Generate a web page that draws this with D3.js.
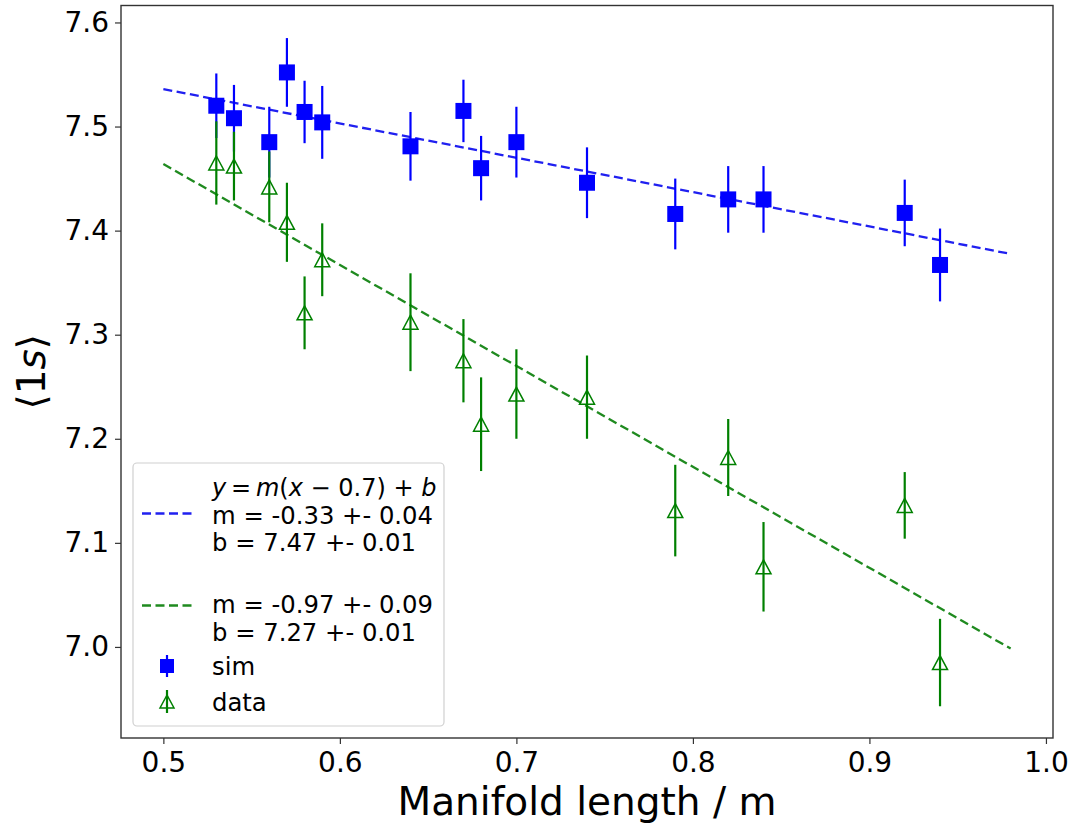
<!DOCTYPE html>
<html>
<head>
<meta charset="utf-8">
<script src="https://cdn.jsdelivr.net/npm/d3@7/dist/d3.min.js"></script>
<style>
  body { margin: 0; background: #fff; }
  text { font-family: "DejaVu Sans", sans-serif; fill: #000; }
</style>
</head>
<body>
<div id="chart"></div>
<script>
// manifold lengths (m)
var lengths = [0.53, 0.54, 0.56, 0.57, 0.58, 0.59, 0.64, 0.67, 0.68, 0.70, 0.74, 0.79, 0.82, 0.84, 0.92, 0.94];

// simulation <1s>
var simVals = [7.520, 7.508, 7.485, 7.552, 7.514, 7.504, 7.481, 7.515, 7.460, 7.485, 7.446, 7.416, 7.430, 7.430, 7.417, 7.367];
var simErrs = [0.031, 0.032, 0.034, 0.033, 0.030, 0.035, 0.033, 0.030, 0.031, 0.034, 0.034, 0.034, 0.032, 0.032, 0.032, 0.035];

// measured <1s>
var dataVals = [7.465, 7.462, 7.442, 7.408, 7.321, 7.372, 7.312, 7.275, 7.214, 7.243, 7.240, 7.131, 7.182, 7.077, 7.136, 6.985];
var dataErrs = [0.040, 0.033, 0.034, 0.038, 0.035, 0.035, 0.047, 0.040, 0.045, 0.043, 0.040, 0.044, 0.037, 0.043, 0.032, 0.042];

// fit y = m(x - 0.7) + b, drawn from x0 to x1
var fitRange = [0.5, 0.98];
var fitSlopes = [-0.33, -0.97];
var fitOffsets = [7.47, 7.27];

var xTicks = [0.5, 0.6, 0.7, 0.8, 0.9, 1.0];
var yTicks = [7.0, 7.1, 7.2, 7.3, 7.4, 7.5, 7.6];

var W = 1071, H = 825;
var margin = { left: 121, right: 18, top: 5.5, bottom: 87 };
var blue = "#0000ff", green = "#008000";

var svg = d3.select("#chart").append("svg")
    .attr("width", W)
    .attr("height", H);

var x = d3.scaleLinear().domain([0.476, 1.004]).range([margin.left, W - margin.right]);
var y = d3.scaleLinear().domain([6.9125, 7.6163]).range([H - margin.bottom, margin.top]);

// axes
var xAxis = svg.append("g")
    .attr("transform", "translate(0," + (H - margin.bottom) + ")")
    .call(d3.axisBottom(x).tickValues(xTicks).tickSize(6).tickPadding(8).tickFormat(d3.format(".1f")));
var yAxis = svg.append("g")
    .attr("transform", "translate(" + margin.left + ",0)")
    .call(d3.axisLeft(y).tickValues(yTicks).tickSize(6).tickPadding(6).tickFormat(d3.format(".1f")));
[xAxis, yAxis].forEach(function(a) {
    a.select(".domain").remove();
    a.selectAll(".tick line").attr("stroke", "#333").attr("stroke-width", 1.2);
    a.selectAll(".tick text").style("font-family", "DejaVu Sans").style("font-size", "28px").attr("fill", "#111");
});

// frame
svg.append("rect")
    .attr("x", margin.left).attr("y", margin.top)
    .attr("width", W - margin.left - margin.right)
    .attr("height", H - margin.top - margin.bottom)
    .attr("fill", "none").attr("stroke", "#333").attr("stroke-width", 1.4);

// fit lines
var fitColors = ["#2020f0", "#1f8a1f"];
fitSlopes.forEach(function(m, i) {
    var b = fitOffsets[i];
    svg.append("line")
        .attr("x1", x(fitRange[0])).attr("y1", y(m * (fitRange[0] - 0.7) + b))
        .attr("x2", x(fitRange[1])).attr("y2", y(m * (fitRange[1] - 0.7) + b))
        .attr("stroke", fitColors[i]).attr("stroke-width", 2.3)
        .attr("stroke-dasharray", "9,4.5");
});

// error bars + markers
function drawSeries(vals, errs, color, shape) {
    var g = svg.append("g");
    g.selectAll("line.err").data(lengths).enter().append("line")
        .attr("x1", function(d) { return x(d); })
        .attr("x2", function(d) { return x(d); })
        .attr("y1", function(d, i) { return y(vals[i] - errs[i]); })
        .attr("y2", function(d, i) { return y(vals[i] + errs[i]); })
        .attr("stroke", color).attr("stroke-width", 2.2);
    if (shape == "square") {
        g.selectAll("rect").data(lengths).enter().append("rect")
            .attr("x", function(d) { return x(d) - 8; })
            .attr("y", function(d, i) { return y(vals[i]) - 8; })
            .attr("width", 16).attr("height", 16)
            .attr("fill", color);
    } else {
        g.selectAll("path").data(lengths).enter().append("path")
            .attr("d", function(d, i) {
                var cx = x(d), cy = y(vals[i]);
                return "M" + cx + "," + (cy - 7) + "L" + (cx - 7.5) + "," + (cy + 7) + "L" + (cx + 7.5) + "," + (cy + 7) + "Z";
            })
            .attr("fill", "none").attr("stroke", color).attr("stroke-width", 1.5);
    }
}
drawSeries(simVals, simErrs, blue, "square");
drawSeries(dataVals, dataErrs, green, "triangle");

// axis labels
svg.append("text")
    .attr("x", (margin.left + W - margin.right) / 2)
    .attr("y", 815)
    .attr("text-anchor", "middle")
    .style("font-size", "39px")
    .text("Manifold length / m");

var yl = svg.append("text")
    .attr("transform", "translate(45," + ((margin.top + H - margin.bottom) / 2) + ") rotate(-90)")
    .attr("text-anchor", "middle")
    .style("font-size", "39px");
yl.append("tspan").text("\u27e81");
yl.append("tspan").style("font-style", "italic").text("s");
yl.append("tspan").text("\u27e9");

// legend
var leg = svg.append("g");
leg.append("rect")
    .attr("x", 133).attr("y", 463).attr("width", 311).attr("height", 263)
    .attr("rx", 4)
    .attr("fill", "#fff").attr("fill-opacity", 0.8)
    .attr("stroke", "#d0d0d0").attr("stroke-width", 1.2);

var tx = 212;
function legText(yy, s) {
    return leg.append("text").attr("x", tx).attr("y", yy).style("font-size", "24.3px").text(s);
}

// formula line (math style)
var f = leg.append("text").attr("x", tx).attr("y", 496).style("font-size", "24px");
[["y", 1], ["\u2009=\u2009", 0], ["m", 1], ["(", 0], ["x", 1], [" \u2212 0.7) + ", 0], ["b", 1]].forEach(function(p) {
    f.append("tspan").style("font-style", p[1] ? "italic" : "normal").text(p[0]);
});
legText(523.5, "m = " + fitSlopes[0].toFixed(2) + " +- 0.04");
legText(551, "b = " + fitOffsets[0].toFixed(2) + " +- 0.01");
legText(613, "m = " + fitSlopes[1].toFixed(2) + " +- 0.09");
legText(641, "b = " + fitOffsets[1].toFixed(2) + " +- 0.01");
legText(675, "sim");
legText(711, "data");

[[513.5, fitColors[0]], [605.5, fitColors[1]]].forEach(function(h) {
    leg.append("line")
        .attr("x1", 142).attr("x2", 192).attr("y1", h[0]).attr("y2", h[0])
        .attr("stroke", h[1]).attr("stroke-width", 2.3).attr("stroke-dasharray", "9,4.5");
});

// sim handle
leg.append("line").attr("x1", 167).attr("x2", 167).attr("y1", 655).attr("y2", 677)
    .attr("stroke", blue).attr("stroke-width", 2.2);
leg.append("rect").attr("x", 160).attr("y", 659).attr("width", 14).attr("height", 14).attr("fill", blue);

// data handle
leg.append("line").attr("x1", 167).attr("x2", 167).attr("y1", 690).attr("y2", 713)
    .attr("stroke", green).attr("stroke-width", 2.2);
leg.append("path")
    .attr("d", "M167,695L160,708L174,708Z")
    .attr("fill", "none").attr("stroke", green).attr("stroke-width", 1.5);
</script>
</body>
</html>
